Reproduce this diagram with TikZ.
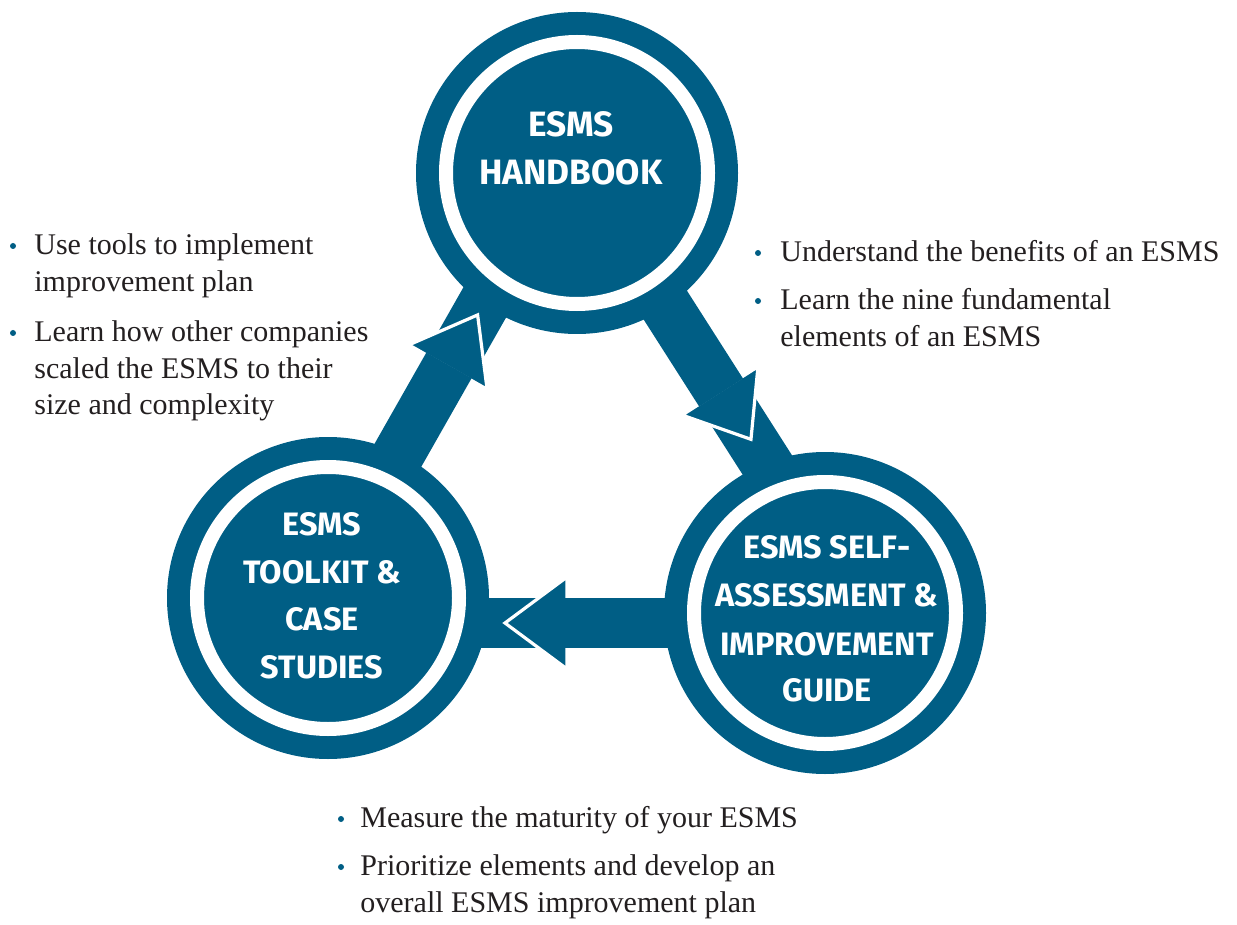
\documentclass[tikz,border=0pt]{standalone}
\usepackage{fontspec}
\setmainfont{Liberation Serif}
\newfontfamily\headfont{Fira Sans}
\definecolor{esms}{RGB}{0,94,133}
\definecolor{ink}{RGB}{35,31,32}
\tikzset{
  shaft/.style={fill=esms},
  headtri/.style={fill=esms, draw=white, line width=1.6pt, line join=miter},
  ringouter/.style={circle, fill=esms, minimum size=161pt, inner sep=0pt, outer sep=0pt},
  ringinner/.style={circle, fill=esms, draw=white, line width=7pt, minimum size=131pt, inner sep=0pt},
  ctxt/.style={anchor=base, inner sep=0pt, text=white, font=\headfont\bfseries\fontsize{16.2}{20}\selectfont},
  ctxtbig/.style={ctxt, font=\headfont\bfseries\fontsize{17.6}{21}\selectfont},
  btxt/.style={anchor=base west, inner sep=0pt, text=ink, font=\fontsize{15}{18.5}\selectfont},
  bul/.style={circle, fill=esms, minimum size=3pt, inner sep=0pt},
}
\begin{document}
\begin{tikzpicture}[x=0.5pt,y=-0.5pt]
\useasboundingbox (0,0) rectangle (1237,925);
% arrow: toolkit -> handbook
\begin{scope}[shift={(397.6,455.8)}, rotate=60.4]
  \fill[shaft] (115,-26) -- (260,-26) -- (260,26) -- (115,26) -- cycle;
  \filldraw[headtri] (102,-45) -- (162,0) -- (102,45) -- cycle;
  \fill[shaft] (-100,-26) -- (104,-26) -- (104,26) -- (-100,26) -- cycle;
\end{scope}
% arrow: handbook -> self-assessment
\begin{scope}[shift={(666.5,307)}, rotate=-57.45]
  \fill[shaft] (110,-26) -- (280,-26) -- (280,26) -- (110,26) -- cycle;
  \filldraw[headtri] (99.5,-45) -- (157,0) -- (99.5,45) -- cycle;
  \fill[shaft] (-120,-26) -- (101.5,-26) -- (101.5,26) -- (-120,26) -- cycle;
\end{scope}
% arrow: self-assessment -> toolkit
\begin{scope}[shift={(620,623)}, rotate=180]
  \fill[shaft] (60,-25) -- (300,-25) -- (300,25) -- (60,25) -- cycle;
  \filldraw[headtri] (53,-46) -- (115,0) -- (53,46) -- cycle;
  \fill[shaft] (-210,-25) -- (55,-25) -- (55,25) -- (-210,25) -- cycle;
\end{scope}
% circles
\node[ringouter] (hbO) at (577,173) {};
\node[ringinner] (hb) at (577,173) {};
\node[ringouter] (tkO) at (328,598) {};
\node[ringinner] (tk) at (328,598) {};
\node[ringouter] (saO) at (825,613) {};
\node[ringinner] (sa) at (825,613) {};
% circle texts
\node[ctxtbig] (hb1) at (571,137) {ESMS};
\node[ctxtbig] (hb2) at (571,185) {HANDBOOK};
\node[ctxt] (tk1) at (322,535) {ESMS};
\node[ctxt] (tk2) at (322,583) {TOOLKIT \&};
\node[ctxt] (tk3) at (322,630) {CASE};
\node[ctxt] (tk4) at (322,678) {STUDIES};
\node[ctxt] (sa1) at (827,558) {ESMS SELF-};
\node[ctxt] (sa2) at (827,606.5) {ASSESSMENT \&};
\node[ctxt] (sa3) at (827,655) {IMPROVEMENT};
\node[ctxt] (sa4) at (827,701.5) {GUIDE};
% left bullets
\node[bul] (lb1) at (13,246) {};
\node[btxt] (l1) at (34,255) {Use tools to implement};
\node[btxt] (l2) at (34,292) {improvement plan};
\node[bul] (lb2) at (13,333) {};
\node[btxt] (l3) at (34,342) {Learn how other companies};
\node[btxt] (l4) at (34,378.5) {scaled the ESMS to their};
\node[btxt] (l5) at (34,415) {size and complexity};
% right bullets
\node[bul] (rb1) at (758,253) {};
\node[btxt] (r1) at (780,262) {Understand the benefits of an ESMS};
\node[bul] (rb2) at (758,301) {};
\node[btxt] (r2) at (780,310) {Learn the nine fundamental};
\node[btxt] (r3) at (780,347) {elements of an ESMS};
% bottom bullets
\node[bul] (bb1) at (341,819) {};
\node[btxt] (b1) at (360,827) {Measure the maturity of your ESMS};
\node[bul] (bb2) at (341,867) {};
\node[btxt] (b2) at (360,875) {Prioritize elements and develop an};
\node[btxt] (b3) at (360,912) {overall ESMS improvement plan};
\end{tikzpicture}
\end{document}
